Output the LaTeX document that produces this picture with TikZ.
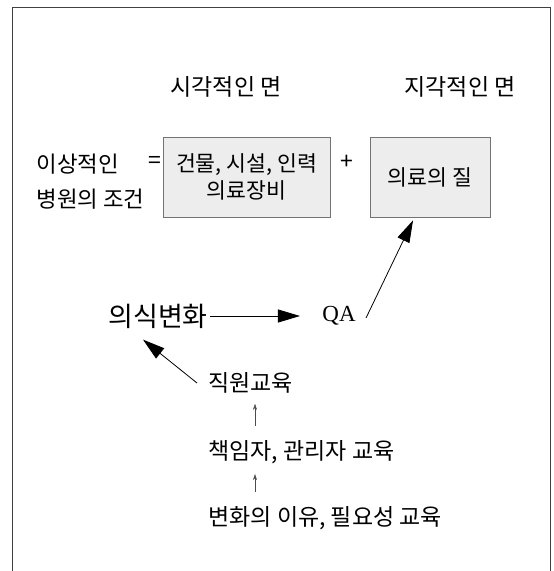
\documentclass[tikz,border=0pt]{standalone}
\usepackage{fontspec}
\setmainfont{Noto Sans CJK KR}
\newfontfamily\latinserif{Liberation Serif}
\usetikzlibrary{arrows.meta}

\begin{document}
\begin{tikzpicture}[x=0.5pt,y=-0.5pt,
    txt/.style={inner sep=1pt,font=\fontsize{11.5}{13}\selectfont},
    panel/.style={draw=black!55,fill=black!7,inner sep=0pt,align=center,minimum height=40pt,font=\fontsize{10.8}{13.5}\selectfont},
    bigarrow/.style={-{Triangle[length=11pt,width=6.5pt]},thin},
    smallarrow/.style={-{Stealth[length=3pt,width=2pt]},very thin,black!70}]
    \useasboundingbox (0,0) rectangle (553,571);
    % frame, open at the bottom
    \draw[black!75,thin] (12,571) -- (12,7) -- (550,7) -- (550,571);

    \node[txt] (visual) at (226,87) {시각적인 면};
    \node[txt] (percept) at (460,87) {지각적인 면};

    \node[txt,anchor=west,align=left,font=\fontsize{11.2}{17.5}\selectfont] (ideal) at (34,182) {이상적인\\병원의 조건};
    \node[txt] (eq) at (155,162) {=};
    \node[panel,minimum width=83.5pt] (facility) at (246.5,177) {건물, 시설, 인력\\의료장비};
    \node[txt] (plus) at (347,162) {+};
    \node[panel,minimum width=60pt] (quality) at (430,177) {의료의 질};

    \node[txt,font=\fontsize{13.5}{15}\selectfont] (change) at (158,316) {의식변화};
    \node[txt,font=\fontsize{11.5}{13}\latinserif] (qa) at (339,316) {QA};

    \node[txt,anchor=west] (staff) at (206,383) {직원교육};
    \node[txt,anchor=west] (manager) at (206,452) {책임자, 관리자 교육};
    \node[txt,anchor=west] (reason) at (206,518) {변화의 이유, 필요성 교육};

    \draw[bigarrow] (change) -- ([xshift=-10pt]qa.west);
    \draw[bigarrow] ([xshift=4pt,yshift=-1pt]qa.east) -- ([xshift=-8.5pt,yshift=-1.5pt]quality.south);
    \draw[bigarrow] ([xshift=-4.5pt]staff.west) -- ([xshift=-7.5pt,yshift=-4.5pt]change.south);
    \draw[smallarrow] ([xshift=24.5pt,yshift=6pt]manager.north west) -- ([xshift=24.5pt,yshift=-4pt]staff.south west);
    \draw[smallarrow] ([xshift=24.5pt,yshift=6pt]reason.north west) -- ([xshift=24.5pt,yshift=-4pt]manager.south west);
\end{tikzpicture}
\end{document}
